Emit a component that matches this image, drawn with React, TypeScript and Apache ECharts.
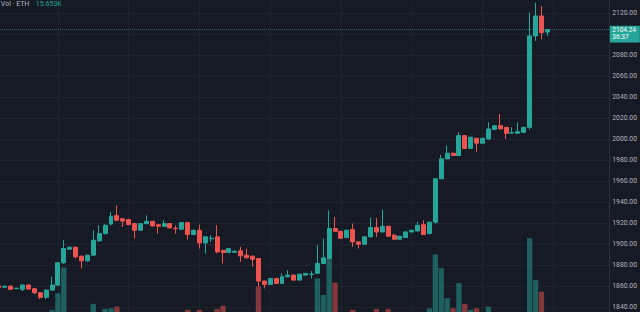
import React, { useEffect, useRef } from 'react';
import * as echarts from 'echarts';

// hourly bars; 104 slots (94 candles + empty space on the right)
const categories: string[] = Array.from({ length: 104 }, (_, i) => {
  const h = (i + 2) % 24;
  const d = 10 + Math.floor((i + 2) / 24);
  return `${d} ${String(h).padStart(2, '0')}:00`;
});

const opens = [
  1860.2, 1858.8, 1859.9, 1857.4, 1856.8, 1860.9, 1857.4, 1853.6, 1849.2, 1856.1,
  1860.9, 1882.1, 1895.0, 1896.9, 1888.4, 1884.0, 1889.4, 1903.0, 1909.9, 1919.0,
  1927.0, 1924.0, 1923.2, 1919.4, 1913.1, 1919.4, 1921.6, 1918.4, 1916.9, 1919.4,
  1915.0, 1914.0, 1920.4, 1909.0, 1913.1, 1901.0, 1905.0, 1906.8, 1894.0, 1891.9,
  1892.0, 1893.5, 1889.4, 1888.4, 1886.2, 1864.7, 1861.5, 1867.2, 1862.5, 1868.8,
  1870.4, 1865.6, 1870.4, 1871.0, 1872.0, 1881.4, 1886.2, 1914.7, 1912.1, 1906.1,
  1913.7, 1902.0, 1899.8, 1906.8, 1915.6, 1911.5, 1916.9, 1908.3, 1904.5, 1906.1,
  1911.5, 1912.4, 1918.4, 1910.0, 1920.8, 1962.1, 1981.1, 1986.5, 1984.3, 2003.2,
  1991.0, 2000.7, 1996.0, 2000.0, 2009.0, 2012.7, 2011.1, 2005.6, 2005.5, 2006.4,
  2011.1, 2098.2, 2117.2, 2101.8,
];
const closes = [
  1858.6, 1859.8, 1856.8, 1857.9, 1860.9, 1857.1, 1853.6, 1849.2, 1856.1, 1860.9,
  1882.1, 1895.7, 1896.9, 1887.8, 1884.0, 1889.4, 1903.6, 1909.9, 1917.8, 1926.4,
  1922.6, 1921.8, 1918.4, 1913.1, 1919.4, 1921.6, 1917.2, 1916.9, 1919.4, 1915.3,
  1914.6, 1920.4, 1909.0, 1913.1, 1901.0, 1906.8, 1905.5, 1892.5, 1891.9, 1895.7,
  1893.2, 1888.7, 1886.8, 1885.5, 1864.7, 1861.5, 1867.2, 1862.5, 1868.8, 1870.4,
  1865.6, 1871.3, 1872.0, 1871.3, 1881.4, 1886.8, 1914.7, 1912.1, 1905.5, 1913.1,
  1902.0, 1899.8, 1906.8, 1915.6, 1911.5, 1916.9, 1907.4, 1904.5, 1907.4, 1911.5,
  1913.1, 1917.8, 1909.0, 1920.8, 1962.1, 1981.1, 1986.5, 1984.3, 2003.2, 1991.0,
  2001.7, 1996.0, 2000.7, 2009.6, 2012.7, 2009.6, 2005.5, 2006.0, 2007.0, 2011.1,
  2098.2, 2117.2, 2101.3, 2104.24,
];
const lows = [
  1858.0, 1858.3, 1856.2, 1857.0, 1855.2, 1856.5, 1852.3, 1847.6, 1847.6, 1855.5,
  1860.0, 1881.0, 1894.5, 1886.2, 1876.7, 1883.0, 1888.8, 1902.0, 1909.0, 1917.5,
  1922.0, 1916.2, 1918.0, 1905.2, 1912.5, 1919.0, 1916.8, 1909.9, 1916.5, 1915.0,
  1909.9, 1913.5, 1904.2, 1908.5, 1895.7, 1891.0, 1902.0, 1891.0, 1881.4, 1891.5,
  1891.6, 1883.0, 1886.4, 1878.3, 1859.3, 1857.7, 1861.0, 1862.0, 1862.0, 1868.4,
  1865.2, 1865.2, 1870.0, 1867.2, 1871.5, 1881.0, 1885.8, 1911.7, 1905.0, 1905.7,
  1897.3, 1895.7, 1899.4, 1906.4, 1906.8, 1911.1, 1907.0, 1904.1, 1904.1, 1905.7,
  1911.1, 1912.0, 1908.6, 1909.0, 1919.4, 1961.7, 1980.7, 1983.9, 1983.9, 1990.6,
  1990.6, 1987.4, 1995.6, 1999.6, 2008.6, 2009.2, 2000.1, 2005.2, 2005.1, 2006.0,
  2009.0, 2093.4, 2095.0, 2098.2,
];
const highs = [
  1860.6, 1860.4, 1860.5, 1858.3, 1861.5, 1861.6, 1857.9, 1854.0, 1856.6, 1868.8,
  1882.8, 1903.6, 1897.5, 1897.5, 1888.8, 1890.0, 1913.1, 1917.8, 1919.0, 1930.5,
  1936.8, 1924.5, 1924.0, 1919.8, 1920.0, 1927.3, 1922.0, 1918.8, 1922.6, 1919.8,
  1917.8, 1921.0, 1921.0, 1913.6, 1918.4, 1907.2, 1908.3, 1917.8, 1894.5, 1896.2,
  1893.6, 1897.3, 1895.7, 1888.8, 1886.6, 1865.1, 1867.6, 1867.6, 1872.0, 1875.1,
  1870.8, 1871.7, 1872.4, 1874.2, 1898.9, 1905.2, 1932.0, 1925.7, 1912.5, 1913.5,
  1919.4, 1902.4, 1907.2, 1925.1, 1925.1, 1932.7, 1917.3, 1909.9, 1907.8, 1911.9,
  1913.5, 1921.0, 1922.6, 1921.2, 1962.5, 1985.0, 1993.8, 1986.9, 2006.4, 2003.6,
  2002.1, 2001.1, 2001.1, 2015.9, 2013.1, 2023.8, 2011.5, 2011.1, 2015.9, 2011.5,
  2120.3, 2129.8, 2126.6, 2104.8,
];
// volume in thousands of ETH
const volumes = [
  3.1, 2.4, 4.6, 1.8, 3.5, 2.9, 4.1, 5.6, 6.2, 7.9,
  15.1, 26.3, 6.4, 5.8, 6.1, 4.7, 10.5, 6.6, 8.3, 8.6,
  9.3, 5.2, 4.4, 6.0, 3.9, 4.8, 3.6, 5.1, 2.7, 3.3,
  2.5, 4.2, 7.9, 3.4, 7.9, 5.5, 2.8, 8.3, 9.7, 4.9,
  2.6, 5.9, 3.7, 6.3, 18.0, 6.8, 4.5, 3.9, 5.3, 3.2,
  4.4, 3.8, 2.6, 3.1, 21.5, 14.4, 30.0, 19.7, 6.7, 5.4,
  7.9, 4.6, 5.0, 6.5, 8.3, 6.1, 8.3, 4.3, 3.5, 4.1,
  2.9, 5.2, 6.6, 8.5, 32.0, 26.0, 13.0, 8.6, 19.5, 10.5,
  7.9, 8.6, 5.7, 9.3, 5.1, 6.4, 6.8, 3.0, 4.2, 6.3,
  39.0, 20.9, 15.8, 4.0,
];

const priceMin = 1820;
const priceMax = 2140;
const priceStep = 20;
const volumeAxisMax = 146;
const lastPrice = 2104.24;
const countdown = '36:37';
const volTitle = 'Vol · ETH';
const volValue = '15.653K';

const UP = '#26a69a';
const DOWN = '#ef5350';
const BG = '#161a25';
const GRID = '#1f232e';
const TEXT = '#b2b5be';
const FONT = 'Roboto, "Noto Sans", sans-serif';

// the chart canvas is larger than the window; the window shows a crop of it
const OFF_X = 3.85;
const OFF_Y = 7.99;
const CANVAS_W = 640 + OFF_X;
const CANVAS_H = 312 + OFF_Y + 15.8;

export default function App() {
  const ref = useRef<HTMLDivElement>(null);
  useEffect(() => {
    document.body.style.margin = '0';
    document.body.style.overflow = 'hidden';
    document.documentElement.style.overflow = 'hidden';
    document.body.style.background = BG;
    const el = ref.current!;
    const chart = echarts.init(el, null, { renderer: 'svg' });
    const candleData = opens.map((o, i) => [o, closes[i], lows[i], highs[i]]);
    const volData = volumes.map((v, i) => ({
      value: v,
      itemStyle: { color: closes[i] >= opens[i] ? 'rgba(38,166,154,0.5)' : 'rgba(239,83,80,0.5)' },
    }));
    chart.setOption({
      animation: false,
      backgroundColor: BG,
      grid: { left: 0, right: 30, top: 0, bottom: 0, containLabel: false },
      xAxis: {
        type: 'category',
        data: categories,
        boundaryGap: true,
        axisLine: { show: false },
        axisTick: { show: false },
        axisLabel: { show: false },
        splitLine: {
          show: true,
          alignWithLabel: true,
          interval: (i: number) => i % 12 === 10,
          lineStyle: { color: GRID, width: 1 },
        },
      },
      yAxis: [
        {
          type: 'value',
          position: 'right',
          min: priceMin,
          max: priceMax,
          interval: priceStep,
          axisLine: { show: true, lineStyle: { color: '#2a2e39' } },
          axisTick: { show: false },
          axisLabel: {
            color: TEXT,
            fontSize: 6.8,
            margin: 3,
            fontFamily: FONT,
            showMinLabel: false,
            showMaxLabel: false,
            formatter: (v: number) =>
              Math.abs(v - lastPrice) < 10 || v <= priceMin || v >= priceMax ? '' : v.toFixed(2),
          },
          splitLine: { show: true, lineStyle: { color: GRID, width: 1 } },
        },
        {
          type: 'value',
          min: 0,
          max: volumeAxisMax,
          show: false,
          splitLine: { show: false },
        },
      ],
      series: [
        {
          type: 'bar',
          yAxisIndex: 1,
          data: volData,
          barWidth: '90%',
          silent: true,
          z: 1,
        },
        {
          type: 'candlestick',
          data: candleData,
          barWidth: '76%',
          silent: true,
          z: 3,
          itemStyle: {
            color: UP,
            color0: DOWN,
            borderColor: UP,
            borderColor0: DOWN,
            borderWidth: 1,
          },
          markLine: {
            silent: true,
            symbol: ['none', 'none'],
            label: { show: false },
            lineStyle: { color: 'rgba(38,166,154,0.55)', type: 'dotted', width: 1 },
            data: [{ yAxis: lastPrice }],
          },
        },
      ],
    });
    const py = chart.convertToPixel({ yAxisIndex: 0 }, lastPrice) as number;
    const axisX = CANVAS_W - 30;
    chart.setOption({
      graphic: [
        { type: 'rect', shape: { x: axisX, y: py - 3.8, width: 30, height: 16.8 }, style: { fill: UP }, z: 100 },
        { type: 'text', x: axisX + 2.5, y: py, z: 101, style: { text: String(lastPrice), fill: '#ffffff', fontSize: 6.5, fontFamily: FONT, verticalAlign: 'middle' } },
        { type: 'text', x: axisX + 2.5, y: py + 7.2, z: 101, style: { text: countdown, fill: '#ffffff', fontSize: 6.5, fontFamily: FONT, verticalAlign: 'middle' } },
        { type: 'text', x: OFF_X + 1, y: OFF_Y + 4.5, z: 101, style: { text: volTitle, fill: TEXT, fontSize: 7, fontFamily: FONT, verticalAlign: 'middle' } },
        { type: 'text', x: OFF_X + 36, y: OFF_Y + 4.5, z: 101, style: { text: volValue, fill: UP, fontSize: 7, fontFamily: FONT, verticalAlign: 'middle' } },
      ],
    });
    return () => chart.dispose();
  }, []);
  return (
    <div
      ref={ref}
      style={{ position: 'absolute', left: -OFF_X, top: -OFF_Y, width: CANVAS_W, height: CANVAS_H }}
    />
  );
}
